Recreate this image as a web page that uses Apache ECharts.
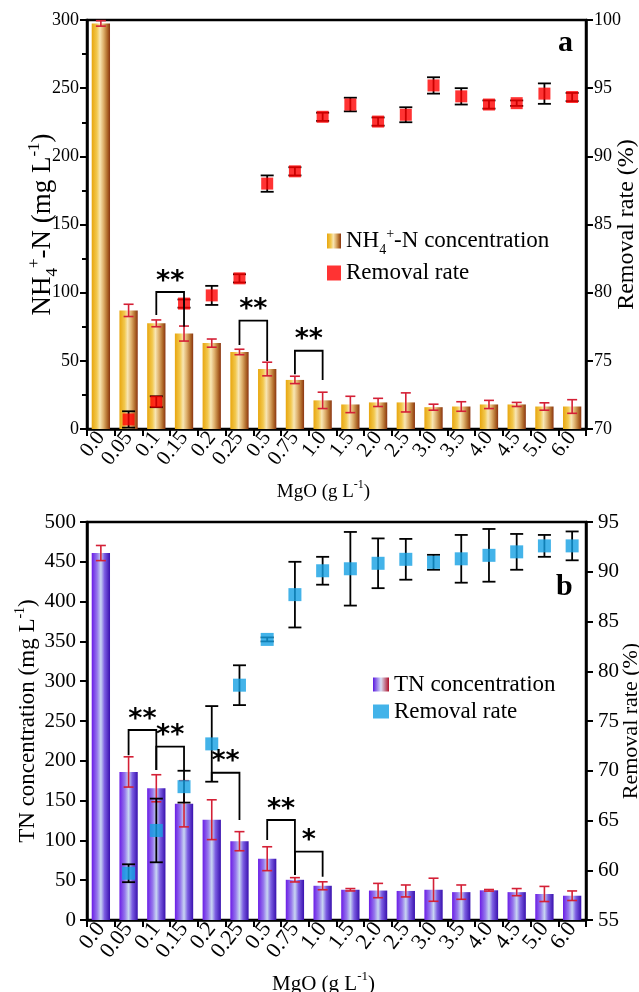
<!DOCTYPE html>
<html><head><meta charset="utf-8">
<script src="https://cdn.jsdelivr.net/npm/echarts@6/dist/echarts.min.js"></script>
<style>html,body{margin:0;padding:0;background:#fff}#c{width:639px;height:992px}</style>
</head><body><div id="c"></div>
<script>
const categories = ['0.0','0.05','0.1','0.15','0.2','0.25','0.5','0.75','1.0','1.5','2.0','2.5','3.0','3.5','4.0','4.5','5.0','6.0'];

// Panel a: NH4+-N concentration (mg/L) and removal rate (%)
const nhConc    = [297.5, 87, 77.5, 70, 63, 56.5, 44, 36, 21, 18, 19.5, 19.5, 16, 16.5, 18, 18, 16.5, 16.5];
const nhConcErr = [2, 4.5, 2.5, 5.5, 3, 2, 5, 2.7, 6, 6, 3, 7, 2.2, 3.5, 3, 1.5, 2.7, 5];
const nhRate    = ['-', 70.7, 72.0, 79.2, 79.8, 81.05, 88.0, 88.9, 92.9, 93.8, 92.55, 93.05, 95.2, 94.4, 93.8, 93.9, 94.6, 94.35];
const nhRateErr = [0, 0.6, 0.4, 0.3, 0.7, 0.3, 0.6, 0.3, 0.3, 0.5, 0.3, 0.55, 0.6, 0.6, 0.3, 0.2, 0.75, 0.3];
const nhBrackets = [[2, 3, 100.5, 83.6, 75], [5, 6, 79.5, 61.6, 49.9], [7, 8, 57.4, 40.1, 36]];
const nhBracketLabels = ['**', '**', '**'];

// Panel b: TN concentration (mg/L) and removal rate (%)
const tnConc    = [461, 186, 165.5, 146, 126, 99, 77, 50.5, 43, 38, 37, 36.5, 38, 35, 37.3, 35, 32.7, 30.5];
const tnConcErr = [9.5, 19, 17, 29, 25, 12, 15, 2.7, 5, 1.5, 9, 7.5, 14.5, 9, 1, 4.5, 9.5, 6];
const tnRate    = ['-', 59.7, 64.0, 68.4, 72.7, 78.6, 83.2, 87.7, 90.1, 90.3, 90.85, 91.25, 90.95, 91.3, 91.65, 92.0, 92.6, 92.6];
const tnRateErr = [0, 0.9, 3.2, 1.6, 3.8, 2.0, 0.2, 3.3, 1.4, 3.7, 2.5, 2.05, 0.75, 2.4, 2.65, 1.8, 1.1, 1.45];
const tnBrackets = [[1, 2, 238.7, 207, 188.4], [2, 3, 217.7, 188.4, 188.4], [4, 5, 185, 174, 125.6], [6, 7, 125.6, 100.5, 56.5], [7, 8, 85.8, 56.5, 54.4]];
const tnBracketLabels = ['**', '**', '**', '**', '*'];

const FONT = '"Liberation Serif", "Times New Roman", serif';

function errData(vals, errs) {
  const out = [];
  vals.forEach((v, i) => { if (v !== '-' && v != null) out.push([i, v - errs[i], v + errs[i]]); });
  return out;
}
function errRender(color, cap, lw) {
  return function (params, api) {
    const x = api.value(0), lo = api.value(1), hi = api.value(2);
    const p1 = api.coord([x, hi]), p2 = api.coord([x, lo]);
    const h = cap / 2;
    const st = { stroke: color, lineWidth: lw };
    return { type: 'group', children: [
      { type: 'line', shape: { x1: p1[0], y1: p1[1], x2: p2[0], y2: p2[1] }, style: st },
      { type: 'line', shape: { x1: p1[0] - h, y1: p1[1], x2: p1[0] + h, y2: p1[1] }, style: st },
      { type: 'line', shape: { x1: p2[0] - h, y1: p2[1], x2: p2[0] + h, y2: p2[1] }, style: st }
    ]};
  };
}
function bracketRender(labels) {
  return function (params, api) {
    const i0 = api.value(0), i1 = api.value(1), top = api.value(2), l = api.value(3), r = api.value(4);
    const a = api.coord([i0, l]), b = api.coord([i0, top]), c = api.coord([i1, top]), d = api.coord([i1, r]);
    return { type: 'group', children: [
      { type: 'polyline', shape: { points: [a, b, c, d] }, style: { stroke: '#000', lineWidth: 1.8, fill: null } },
      { type: 'text', x: (b[0] + c[0]) / 2, y: b[1] + 3, style: { text: labels[params.dataIndex], font: 'bold 27px "DejaVu Sans"', align: 'center', verticalAlign: 'bottom', fill: '#000' } }
    ]};
  };
}
function rateData(vals) { return vals.map((v, i) => v === '-' ? null : [i, v]).filter(Boolean); }

const goldGrad = new echarts.graphic.LinearGradient(0, 0, 1, 0, [
  { offset: 0, color: '#E8A60E' }, { offset: 0.28, color: '#F2C84E' }, { offset: 0.45, color: '#F8E6B4' },
  { offset: 0.65, color: '#DDAE6A' }, { offset: 0.85, color: '#B06A2A' }, { offset: 1, color: '#8A3410' }]);
const purpleGrad = new echarts.graphic.LinearGradient(0, 0, 1, 0, [
  { offset: 0, color: '#6A1CE6' }, { offset: 0.3, color: '#9678EC' }, { offset: 0.5, color: '#C8D6F2' },
  { offset: 0.7, color: '#7C5EE2' }, { offset: 1, color: '#3810AE' }]);
const tnLegendGrad = new echarts.graphic.LinearGradient(0, 0, 1, 0, [
  { offset: 0, color: '#5A18E0' }, { offset: 0.5, color: '#D8E0F4' }, { offset: 1, color: '#B0102A' }]);

const rich = (fs) => ({
  sub: { fontFamily: FONT, fontSize: Math.round(fs * 0.62), verticalAlign: 'bottom', lineHeight: Math.round(fs * 0.62), padding: [0, 0, -2, 0] },
  sup: { fontFamily: FONT, fontSize: Math.round(fs * 0.62), verticalAlign: 'top', lineHeight: Math.round(fs * 0.62) }
});

function xAxis(grid, nameFs) {
  return {
    type: 'category', gridIndex: grid, data: categories,
    axisLine: { lineStyle: { color: '#000', width: 2.5 } },
    axisTick: { show: true, length: 7, lineStyle: { width: 2 }, alignWithLabel: false },
    axisLabel: { rotate: 52, fontFamily: FONT, fontSize: grid === 0 ? 21 : 22, color: '#000', margin: 5, interval: 0 },
    name: 'MgO (g L{sup|-1})', nameLocation: 'middle', nameGap: 50,
    nameTextStyle: { fontFamily: FONT, fontSize: nameFs, color: '#000', lineHeight: nameFs + 8, rich: rich(nameFs), padding: [0, 26, 0, 0] }
  };
}
function yAxis(grid, pos, min, max, interval, labelFs, labelMargin, name, nameFs, nameGap, minor) {
  return {
    type: 'value', gridIndex: grid, position: pos, min, max, interval,
    axisLine: { show: true, lineStyle: { color: '#000', width: 2.5 } },
    axisTick: { show: true, length: 7, lineStyle: { width: 2 } },
    minorTick: { show: !!minor, splitNumber: 2, length: 5, lineStyle: { color: '#000', width: 2 } },
    splitLine: { show: false },
    axisLabel: { fontFamily: FONT, fontSize: labelFs, color: '#000', margin: labelMargin },
    name, nameLocation: 'middle', nameRotate: 90, nameGap, nameMoveOverlap: false,
    nameTextStyle: { fontFamily: FONT, fontSize: nameFs, color: '#000', lineHeight: nameFs + 6, rich: rich(nameFs) }
  };
}

const chart = echarts.init(document.getElementById('c'), null, { renderer: 'canvas' });
chart.setOption({
  animation: false,
  backgroundColor: '#fff',
  grid: [
    { left: 87, right: 53, top: 20, height: 409, show: true, borderColor: '#000', borderWidth: 2.5, backgroundColor: 'transparent', outerBoundsMode: 'none', containLabel: false },
    { left: 87, right: 53, top: 522, height: 398, show: true, borderColor: '#000', borderWidth: 2.5, backgroundColor: 'transparent', outerBoundsMode: 'none', containLabel: false }
  ],
  xAxis: [xAxis(0, 19), xAxis(1, 21)],
  yAxis: [
    yAxis(0, 'left', 0, 300, 50, 18, 8, 'NH{sub|4}{sup|+}-N (mg L{sup|-1})', 27, 28, true),
    yAxis(0, 'right', 70, 100, 5, 18, 8, 'Removal rate (%)', 24, 26, false),
    yAxis(1, 'left', 0, 500, 50, 21, 11, 'TN concentration (mg L{sup|-1})', 23, 45, false),
    yAxis(1, 'right', 55, 95, 5, 21, 12, 'Removal rate (%)', 22, 31, false)
  ],
  legend: [
    { orient: 'vertical', left: 322, top: 222, itemWidth: 14, itemHeight: 15, itemGap: 2, icon: 'rect',
      data: [{ name: 'NH4 concentration' }, { name: 'Removal rate a' }],
      formatter: (n) => n === 'NH4 concentration' ? 'NH{sub|4}{sup|+}-N concentration' : 'Removal rate',
      textStyle: { fontFamily: FONT, fontSize: 23, color: '#000', lineHeight: 28, rich: rich(23) } },
    { orient: 'vertical', left: 368, top: 668, itemWidth: 16, itemHeight: 14, itemGap: 4, icon: 'rect',
      data: [{ name: 'TN concentration', itemStyle: { color: tnLegendGrad } }, { name: 'Removal rate b' }],
      formatter: (n) => n === 'TN concentration' ? 'TN concentration' : 'Removal rate',
      textStyle: { fontFamily: FONT, fontSize: 23, color: '#000' } }
  ],
  graphic: [
    { type: 'text', left: 558, top: 28, style: { text: 'a', font: 'bold 30px ' + FONT, fill: '#000' } },
    { type: 'text', left: 556, top: 572, style: { text: 'b', font: 'bold 30px ' + FONT, fill: '#000' } }
  ],
  series: [
    { name: 'NH4 concentration', type: 'bar', xAxisIndex: 0, yAxisIndex: 0, data: nhConc, barWidth: '66%',
      itemStyle: { color: goldGrad }, z: 2 },
    { type: 'custom', xAxisIndex: 0, yAxisIndex: 0, data: errData(nhConc, nhConcErr), encode: { x: 0, y: [1, 2] },
      renderItem: errRender('#D42036', 10, 1.6), z: 3, silent: true },
    { type: 'custom', xAxisIndex: 0, yAxisIndex: 1, data: errData(nhRate, nhRateErr), encode: { x: 0, y: [1, 2] },
      renderItem: errRender('#000', 13, 1.8), z: 4, silent: true },
    { name: 'Removal rate a', type: 'scatter', xAxisIndex: 0, yAxisIndex: 1, data: rateData(nhRate),
      symbol: 'rect', symbolSize: 12, itemStyle: { color: '#FF0000' }, z: 5 },
    { type: 'custom', xAxisIndex: 0, yAxisIndex: 0, data: nhBrackets, encode: { x: [0, 1], y: [2, 3, 4] },
      renderItem: bracketRender(nhBracketLabels), z: 6, silent: true },

    { name: 'TN concentration', type: 'bar', xAxisIndex: 1, yAxisIndex: 2, data: tnConc, barWidth: '66%',
      itemStyle: { color: purpleGrad }, z: 2 },
    { type: 'custom', xAxisIndex: 1, yAxisIndex: 2, data: errData(tnConc, tnConcErr), encode: { x: 0, y: [1, 2] },
      renderItem: errRender('#D42036', 10, 1.6), z: 3, silent: true },
    { type: 'custom', xAxisIndex: 1, yAxisIndex: 3, data: errData(tnRate, tnRateErr), encode: { x: 0, y: [1, 2] },
      renderItem: errRender('#000', 13, 1.8), z: 4, silent: true },
    { name: 'Removal rate b', type: 'scatter', xAxisIndex: 1, yAxisIndex: 3, data: rateData(tnRate),
      symbol: 'rect', symbolSize: 13, itemStyle: { color: '#14A0E4' }, z: 5 },
    { type: 'custom', xAxisIndex: 1, yAxisIndex: 2, data: tnBrackets, encode: { x: [0, 1], y: [2, 3, 4] },
      renderItem: bracketRender(tnBracketLabels), z: 6, silent: true }
  ]
});
</script>
</body></html>
